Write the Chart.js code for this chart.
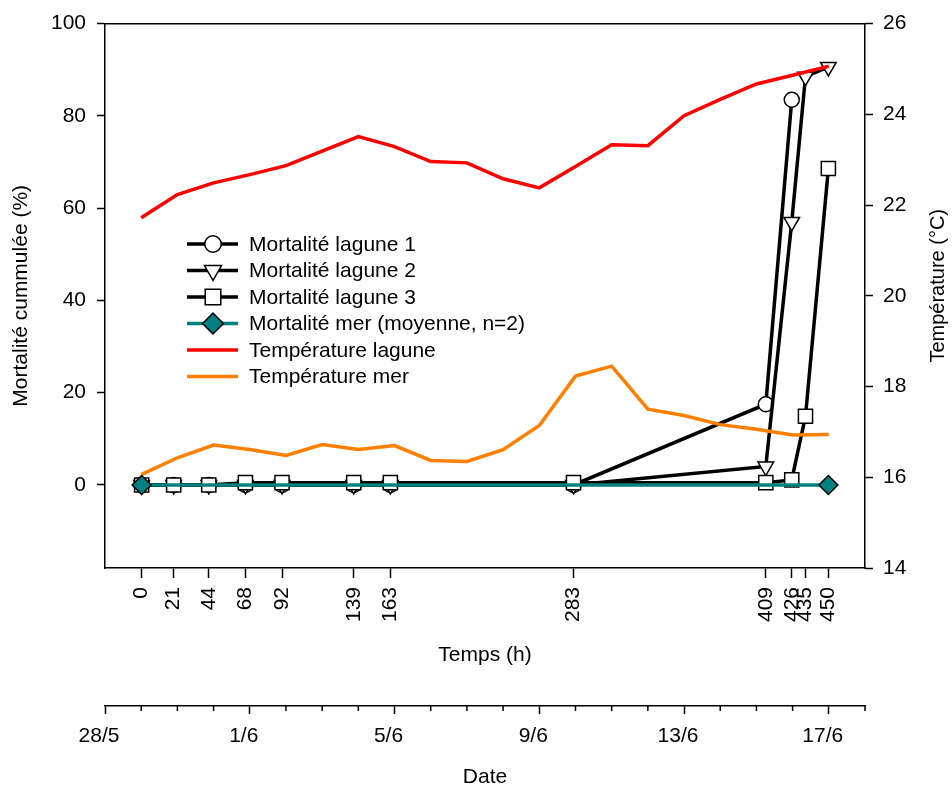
<!DOCTYPE html>
<html>
<head>
<meta charset="utf-8">
<script src="https://cdn.jsdelivr.net/npm/chart.js@4.4.0/dist/chart.umd.min.js"></script>
<style>
  html, body { margin: 0; padding: 0; background: #fff; }
</style>
</head>
<body>
<canvas id="chart" width="952" height="790"></canvas>
<script>
// Mortalité - temps en heures
const timeTicks = [0, 21, 44, 68, 92, 139, 163, 283, 409, 426, 435, 450];
const lagune1Times = [0, 21, 44, 68, 92, 139, 163, 283, 409, 426];
const lagune1 = [0, 0, 0, 0, 0, 0, 0, 0, 17.5, 83.5];
const lagune2Times = [0, 21, 44, 68, 92, 139, 163, 283, 409, 426, 435, 450];
const lagune2 = [0, 0, 0, 0, 0, 0, 0, 0, 4, 57, 88.5, 90.6];
const lagune3Times = [0, 21, 44, 68, 92, 139, 163, 283, 409, 426, 435, 450];
const lagune3 = [0, 0, 0, 0.5, 0.5, 0.5, 0.5, 0.5, 0.5, 1.1, 14.9, 68.6];
const merTimes = [0, 450];
const mer = [0, 0];

// Températures journalières (jours depuis le 28/5)
const tempDays = [1, 2, 3, 4, 5, 6, 7, 8, 9, 10, 11, 12, 13, 14, 15, 16, 17, 18, 19, 20];
const tempLagune = [21.72, 22.23, 22.49, 22.67, 22.87, 23.19, 23.51, 23.29, 22.96, 22.93,
                    22.58, 22.38, 22.85, 23.33, 23.31, 23.97, 24.33, 24.67, 24.86, 25.06];
const tempMer = [16.06, 16.43, 16.71, 16.61, 16.48, 16.72, 16.61, 16.70, 16.37, 16.35,
                 16.61, 17.14, 18.23, 18.45, 17.50, 17.36, 17.16, 17.06, 16.93, 16.94];

// Axes
const yTicks = [0, 20, 40, 60, 80, 100];
const dateTicks = [0, 4, 8, 12, 16, 20];
const dateLabels = ['28/5', '1/6', '5/6', '9/6', '13/6', '17/6'];

const FONT = '"Liberation Sans", Arial, sans-serif';
const font21 = { family: FONT, size: 21 };

function pts(xs, ys) {
    return xs.map((x, i) => ({ x: x, y: ys[i] }));
}

// Légende dans la zone du graphique
const legendPlugin = {
    id: 'legendInside',
    afterDraw(chart) {
        const c = chart.ctx;
        const x0 = 187, x1 = 238, xm = 213, xt = 249;
        let y = 244;
        c.save();
        chart.data.datasets.forEach(ds => {
            c.strokeStyle = ds.borderColor;
            c.lineWidth = 3.5;
            c.beginPath();
            c.moveTo(x0, y);
            c.lineTo(x1, y);
            c.stroke();
            if (ds.pointRadius > 0) {
                c.fillStyle = ds.pointBackgroundColor;
                c.strokeStyle = ds.pointBorderColor;
                c.lineWidth = ds.pointBorderWidth;
                Chart.helpers.drawPoint(c, {
                    pointStyle: ds.pointStyle,
                    rotation: ds.pointRotation || 0,
                    radius: ds.pointRadius * 1.1,
                    borderWidth: ds.pointBorderWidth
                }, xm, y);
            }
            c.fillStyle = '#000';
            c.font = '21px ' + FONT;
            c.textAlign = 'left';
            c.textBaseline = 'middle';
            c.fillText(ds.label, xt, y + 1);
            y += 26.5;
        });
        c.restore();
    }
};

// Petites graduations de l'axe Date
const minorTickPlugin = {
    id: 'dateMinorTicks',
    afterDraw(chart) {
        const s = chart.scales.xDate;
        const c = chart.ctx;
        c.save();
        c.strokeStyle = '#000';
        c.lineWidth = 1.5;
        s.ticks.forEach(t => {
            if (dateTicks.includes(t.value)) return;
            const px = s.getPixelForValue(t.value);
            c.beginPath();
            c.moveTo(px, s.top);
            c.lineTo(px, s.top + 5);
            c.stroke();
        });
        c.restore();
    }
};

// Titre de l'axe droit (lu de bas en haut)
const rightTitlePlugin = {
    id: 'rightTitle',
    afterDraw(chart) {
        const s = chart.scales.y2;
        const area = chart.chartArea;
        const c = chart.ctx;
        c.save();
        c.translate(s.right - 14, (area.top + area.bottom) / 2 - 10);
        c.rotate(-Math.PI / 2);
        c.font = '20px ' + FONT;
        c.fillStyle = '#000';
        c.textAlign = 'center';
        c.textBaseline = 'middle';
        c.fillText('Température (°C)', 0, 0);
        c.restore();
    }
};

new Chart(document.getElementById('chart'), {
    type: 'line',
    data: {
        datasets: [
            {
                label: 'Mortalité lagune 1',
                data: pts(lagune1Times, lagune1),
                xAxisID: 'x', yAxisID: 'y',
                borderColor: '#000', borderWidth: 3.5,
                pointStyle: 'circle', pointRadius: 7.5,
                pointBackgroundColor: '#fff', pointBorderColor: '#000', pointBorderWidth: 1.5,
                order: 5
            },
            {
                label: 'Mortalité lagune 2',
                data: pts(lagune2Times, lagune2),
                xAxisID: 'x', yAxisID: 'y',
                borderColor: '#000', borderWidth: 3.5,
                pointStyle: 'triangle', pointRotation: 180, pointRadius: 9,
                pointBackgroundColor: '#fff', pointBorderColor: '#000', pointBorderWidth: 1.5,
                order: 4
            },
            {
                label: 'Mortalité lagune 3',
                data: pts(lagune3Times, lagune3),
                xAxisID: 'x', yAxisID: 'y',
                borderColor: '#000', borderWidth: 3.5,
                pointStyle: 'rect', pointRadius: 10,
                pointBackgroundColor: '#fff', pointBorderColor: '#000', pointBorderWidth: 1.5,
                order: 3
            },
            {
                label: 'Mortalité mer (moyenne, n=2)',
                data: pts(merTimes, mer),
                xAxisID: 'x', yAxisID: 'y',
                borderColor: '#008080', borderWidth: 3.5,
                pointStyle: 'rectRot', pointRadius: 9.5,
                pointBackgroundColor: '#008080', pointBorderColor: '#000', pointBorderWidth: 1.5,
                order: 0
            },
            {
                label: 'Température lagune',
                data: pts(tempDays, tempLagune),
                xAxisID: 'xDate', yAxisID: 'y2',
                borderColor: '#ff0000', borderWidth: 3.5,
                pointRadius: 0,
                order: 1
            },
            {
                label: 'Température mer',
                data: pts(tempDays, tempMer),
                xAxisID: 'xDate', yAxisID: 'y2',
                borderColor: '#ff8000', borderWidth: 3.5,
                pointRadius: 0,
                order: 2
            }
        ]
    },
    options: {
        responsive: false,
        animation: false,
        layout: { padding: 0 },
        plugins: {
            legend: { display: false },
            tooltip: { enabled: false }
        },
        scales: {
            x: {
                type: 'linear', position: 'bottom',
                min: -24, max: 474,
                afterBuildTicks: s => { s.ticks = timeTicks.map(v => ({ value: v })); },
                afterFit: s => { s.height = 138; },
                ticks: {
                    autoSkip: false, minRotation: 90, maxRotation: 90,
                    padding: 9, color: '#000', font: font21,
                    callback: v => String(v)
                },
                grid: { drawOnChartArea: false, tickLength: 10, tickColor: '#000', tickWidth: 1.5 },
                border: { color: '#000', width: 1.5 },
                title: { display: true, text: 'Temps (h)', color: '#000', font: font21, padding: { top: 0, bottom: 38 } }
            },
            xDate: {
                type: 'linear', position: 'bottom',
                min: 0, max: 21,
                afterFit: s => { s.height = 84; },
                ticks: {
                    stepSize: 1, autoSkip: false, maxRotation: 0,
                    padding: 10, labelOffset: -6, color: '#000', font: font21,
                    callback: v => {
                        const i = dateTicks.indexOf(v);
                        return i >= 0 ? dateLabels[i] : '';
                    }
                },
                grid: {
                    drawOnChartArea: false, tickLength: 8, tickWidth: 1.5,
                    tickColor: ctx => dateTicks.includes(ctx.tick.value) ? '#000' : 'rgba(0,0,0,0)'
                },
                border: { color: '#000', width: 1.5 },
                title: { display: true, text: 'Date', color: '#000', font: font21, padding: { top: 0, bottom: 0 } }
            },
            xTop: {
                type: 'linear', position: 'top',
                min: 0, max: 1,
                afterFit: s => { s.height = 22; },
                ticks: { display: false },
                grid: { drawOnChartArea: false, drawTicks: false },
                border: { color: '#000', width: 1.5 }
            },
            y: {
                type: 'linear', position: 'left',
                min: -18, max: 100,
                afterBuildTicks: s => { s.ticks = yTicks.map(v => ({ value: v })); },
                afterFit: s => { s.width = 105; },
                ticks: { padding: 11, color: '#000', font: font21 },
                grid: { drawOnChartArea: false, tickLength: 8, tickColor: '#000', tickWidth: 1.5 },
                border: { color: '#000', width: 1.5 },
                title: { display: true, text: 'Mortalité cummulée (%)', color: '#000', font: font21, padding: { top: 9, bottom: 0 } }
            },
            y2: {
                type: 'linear', position: 'right',
                min: 14, max: 26,
                afterFit: s => { s.width = 87; },
                ticks: { stepSize: 2, padding: 10, color: '#000', font: font21 },
                grid: { drawOnChartArea: false, tickLength: 8, tickColor: '#000', tickWidth: 1.5 },
                border: { color: '#000', width: 1.5 },
                title: { display: false }
            }
        }
    },
    plugins: [legendPlugin, minorTickPlugin, rightTitlePlugin]
});
</script>
</body>
</html>
